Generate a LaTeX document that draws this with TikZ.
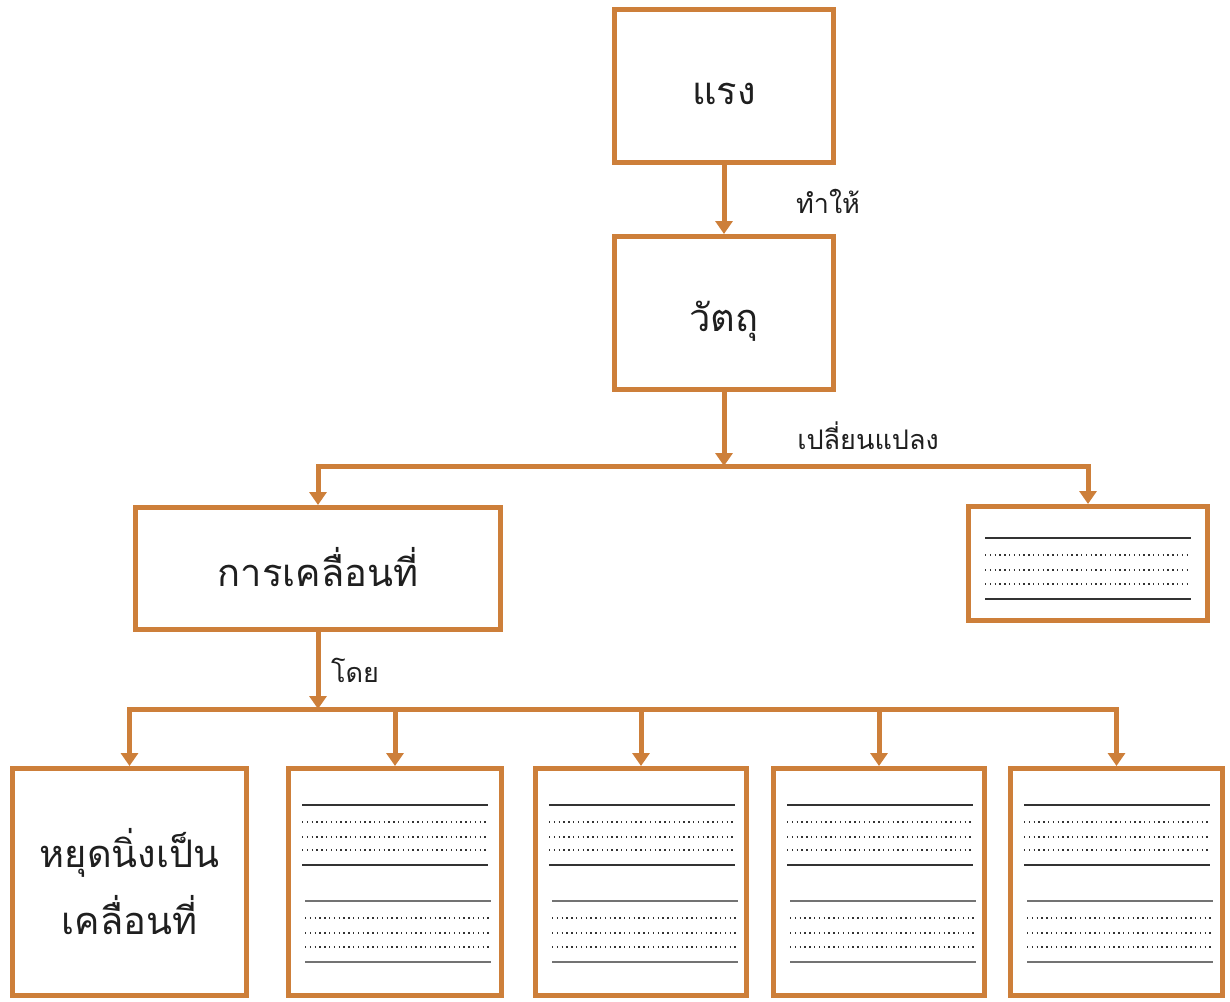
\documentclass[tikz,border=0pt]{standalone}
\usepackage{fontspec}
\setmainfont[Script=Thai]{Loma}
\usepackage{tikz}
\usetikzlibrary{arrows.meta}
\definecolor{boxorange}{RGB}{205,127,58}

\begin{document}
\begin{tikzpicture}[x=1pt, y=-1pt,
  framebox/.style={draw=boxorange, line width=5pt, inner sep=0pt, text=black!88, font=\fontsize{38}{46}\selectfont},
  wordbox/.style={framebox, text height=36pt, text depth=0pt},
  link/.style={draw=boxorange, line width=5pt, -{Triangle[width=17pt,length=13pt]}},
  linklabel/.style={text=black!88, font=\fontsize{27}{32}\selectfont},
  fullline/.style={line width=1.2pt, color=black!80},
  paleline/.style={line width=1.2pt, color=black!55},
  dotline/.style={line width=1.2pt, color=black!80, dash pattern=on 1.4pt off 3.4pt}]
\useasboundingbox (0,0) rectangle (1230,1001);
%top chain
\node[wordbox, minimum width=219pt, minimum height=153pt] at (724, 86) (0h4) {แรง};
\node[wordbox, minimum width=219pt, minimum height=153pt] at (724, 313) (0h3) {วัตถุ};
\draw[link] (0h4) -- (0h3);
\node[linklabel] at (828, 201) (l1) {ทำให้};
\coordinate (b2) at (724, 466);
\draw[link] (0h3) -- (b2);
\node[linklabel] at (868, 436) (l2) {เปลี่ยนแปลง};
\node[wordbox, minimum width=365pt, minimum height=122pt] at (318, 568.5) (0h2) {การเคลื่อนที่};
\node[framebox, minimum width=239pt, minimum height=114pt] at (1088, 563.5) (1h2) {};
\draw[link] (b2) -| (0h2);
\draw[link] (b2) -| (1h2);
\begin{scope}[shift={(1h2.north west)}]
\draw[fullline] (19, 34) -- (225, 34);
\foreach \y in {51, 66, 80} \draw[dotline] (19, \y) -- (225, \y);
\draw[fullline] (19, 95) -- (225, 95);
\end{scope}
%bottom row
\coordinate (b1) at (318, 709);
\draw[link] (0h2) -- (b1);
\node[linklabel] at (355, 670) (l3) {โดย};
\node[framebox, minimum width=234pt, minimum height=227pt, align=center, font=\fontsize{38}{67}\selectfont] at (129.5, 882) (0h0) {หยุดนิ่งเป็น\\เคลื่อนที่};
\node[framebox, minimum width=213pt, minimum height=227pt] at (395, 882) (1h0) {};
\node[framebox, minimum width=211pt, minimum height=227pt] at (641, 882) (2h0) {};
\node[framebox, minimum width=211pt, minimum height=227pt] at (879, 882) (3h0) {};
\node[framebox, minimum width=212pt, minimum height=227pt] at (1116.5, 882) (4h0) {};
\foreach \n in {0h0, 1h0, 2h0, 3h0, 4h0} \draw[link] (b1) -| (\n);
\foreach \n in {1h0, 2h0, 3h0, 4h0} {
  \begin{scope}[shift={(\n.north west)}]
  \draw[fullline] (16, 39) -- (202, 39);
  \foreach \y in {56, 71, 84} \draw[dotline] (16, \y) -- (202, \y);
  \draw[fullline] (16, 99) -- (202, 99);
  \draw[paleline] (19, 135) -- (205, 135);
  \foreach \y in {152, 167, 181} \draw[dotline] (19, \y) -- (205, \y);
  \draw[paleline] (19, 196) -- (205, 196);
  \end{scope}
}
\end{tikzpicture}
\end{document}
